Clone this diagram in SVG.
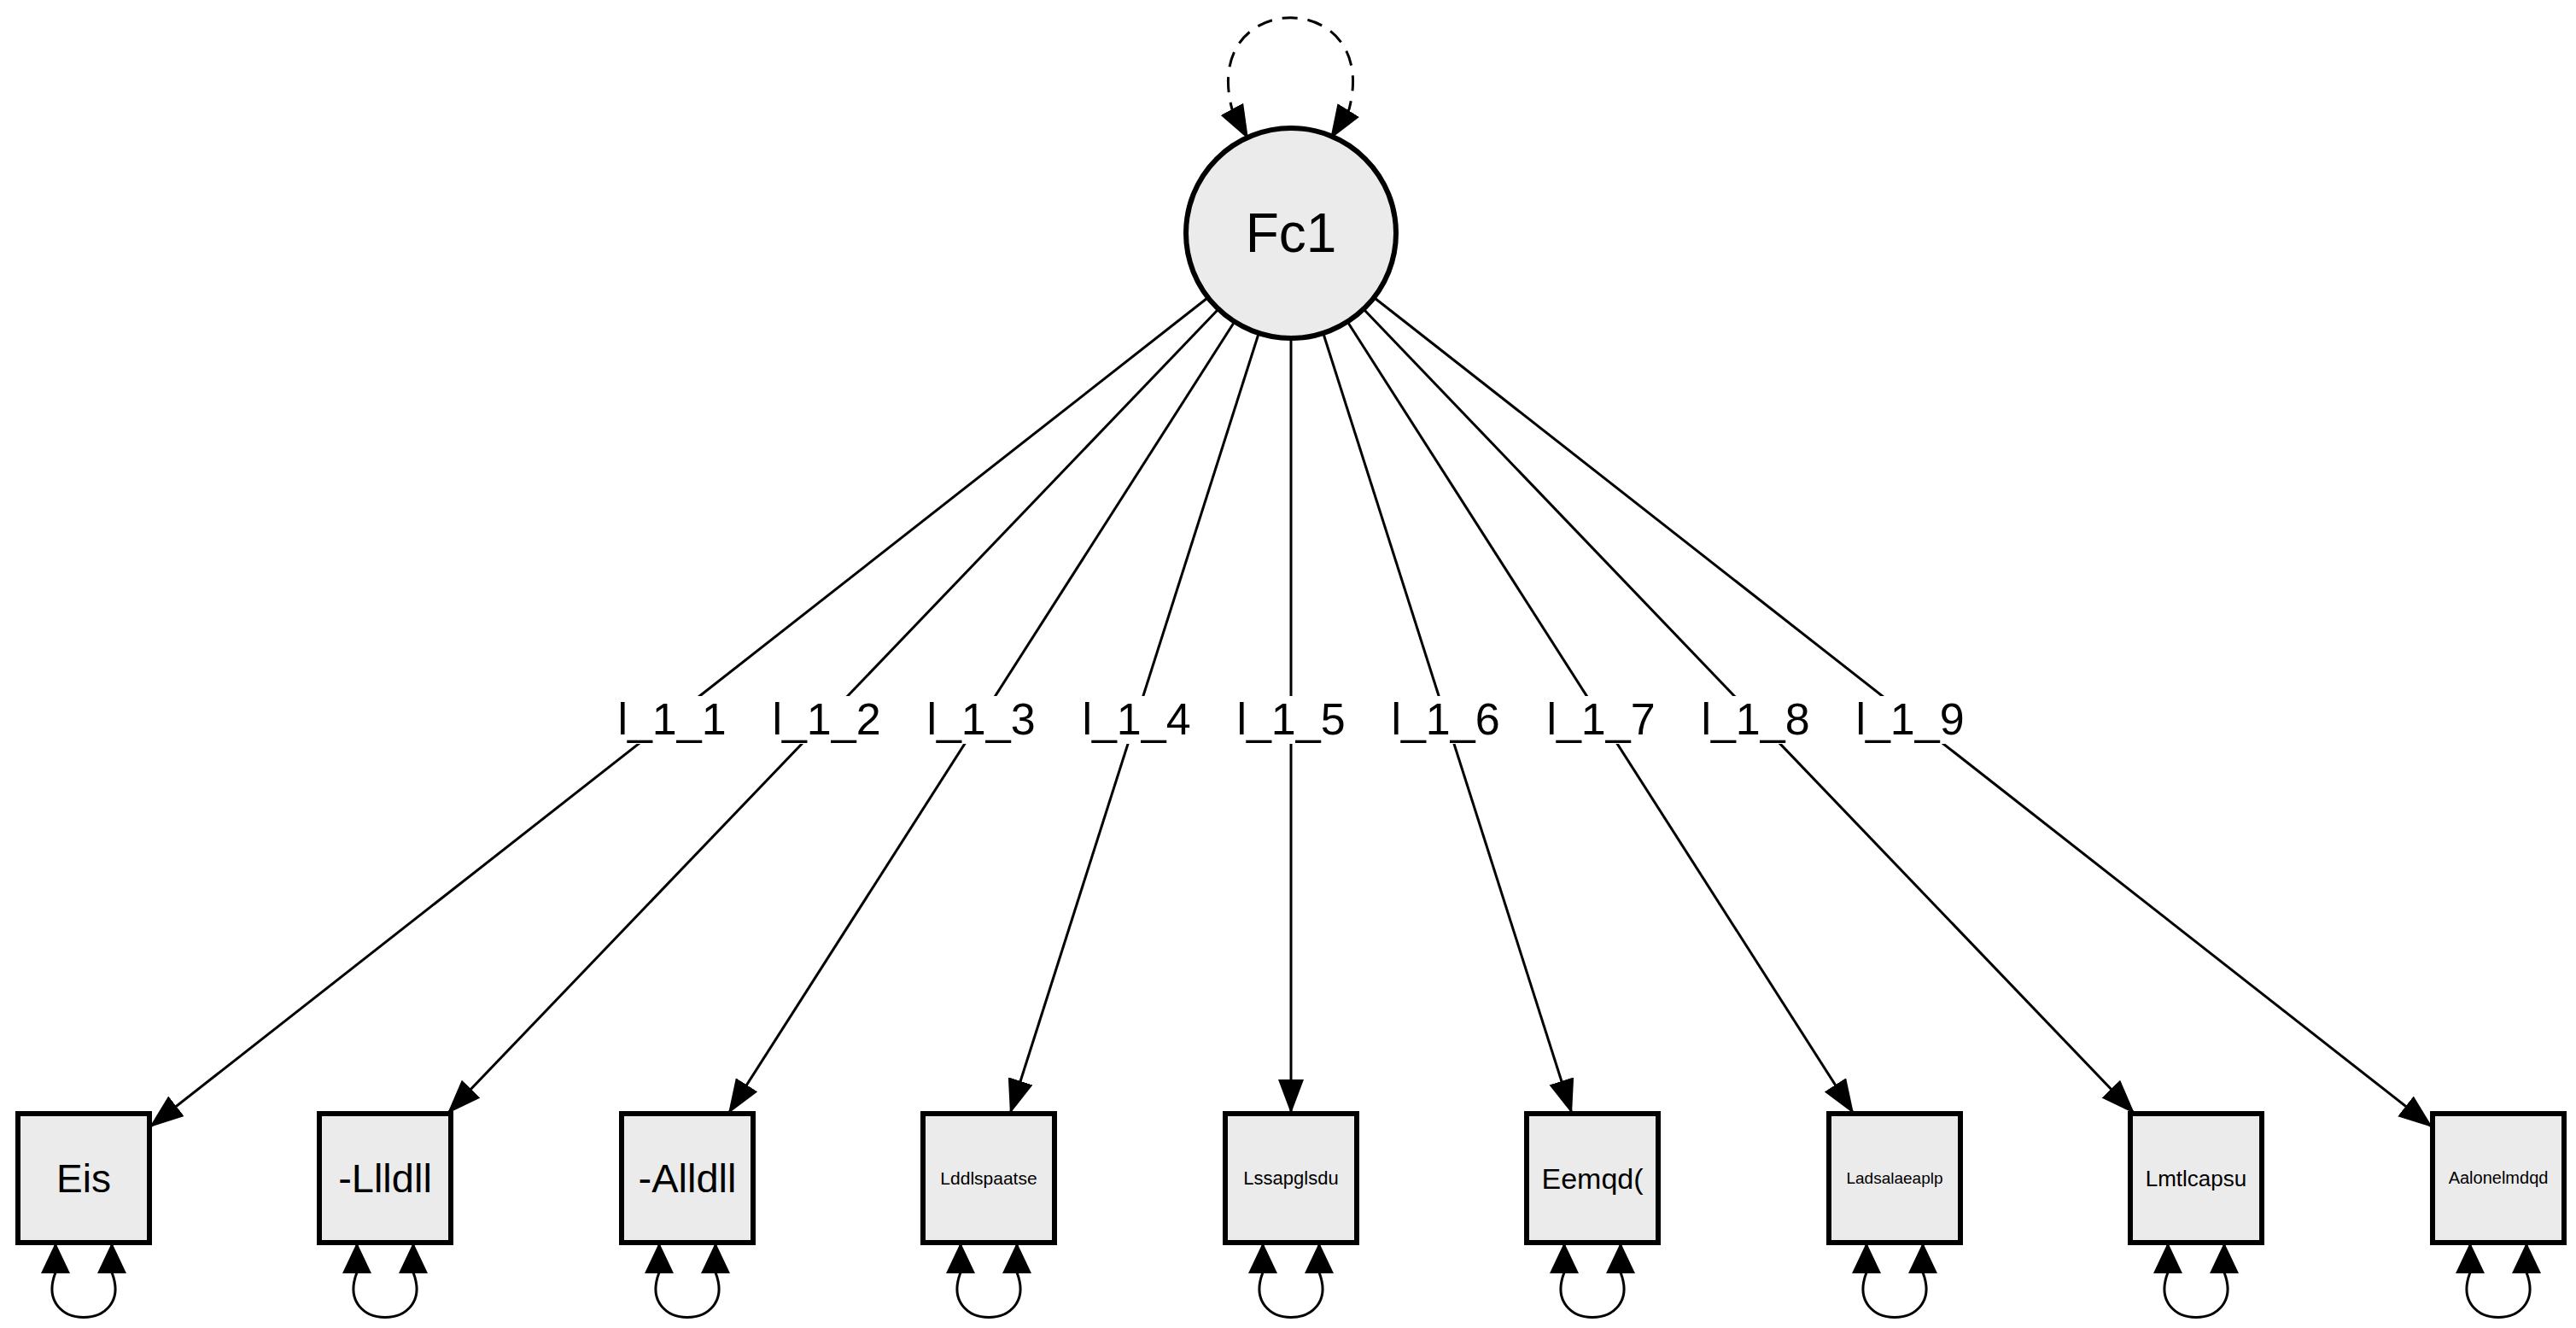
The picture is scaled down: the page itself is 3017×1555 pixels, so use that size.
<svg xmlns="http://www.w3.org/2000/svg" width="3017" height="1555" viewBox="0 0 3017 1555">
<style>
.ln{fill:none;stroke:#000;stroke-width:3}
.box{fill:#ebebeb;stroke:#000;stroke-width:6}
.t{font-family:"Liberation Sans",Arial,sans-serif;text-anchor:middle;fill:#000}
.lb{font-family:"Liberation Sans",Arial,sans-serif;font-size:52px;text-anchor:middle;fill:#000}
</style>
<defs>
<marker id="ah" markerUnits="userSpaceOnUse" markerWidth="42" markerHeight="32" refX="40" refY="15" orient="auto-start-reverse"><path d="M0,0 L40,15 L0,30 z" fill="#000"/></marker>
<marker id="sh" markerUnits="userSpaceOnUse" markerWidth="38" markerHeight="36" refX="36" refY="17" orient="auto-start-reverse"><path d="M0,0 L36,17 L0,34 z" fill="#000"/></marker>
</defs>
<rect width="3017" height="1555" fill="#fff"/>
<g id="connectors">
<path class="ln" stroke-dasharray="18,12" d="M1462,163 L1443,128 C1405,-15 1618,-15 1580,128 L1558,163" marker-start="url(#ah)" marker-end="url(#ah)"/>
<path class="ln" d="M1414,349 L175,1320" marker-end="url(#ah)"/>
<path class="ln" d="M1426,363 L524,1304" marker-end="url(#ah)"/>
<path class="ln" d="M1445,378 L853,1304" marker-end="url(#ah)"/>
<path class="ln" d="M1474,391 L1183,1304" marker-end="url(#ah)"/>
<path class="ln" d="M1512,397 L1512,1304" marker-end="url(#ah)"/>
<path class="ln" d="M1550,391 L1841,1304" marker-end="url(#ah)"/>
<path class="ln" d="M1579,378 L2171,1304" marker-end="url(#ah)"/>
<path class="ln" d="M1598,363 L2500,1304" marker-end="url(#ah)"/>
<path class="ln" d="M1610,349 L2849,1320" marker-end="url(#ah)"/>
<g fill="#fff">
<rect x="717" y="815" width="140" height="56"/><rect x="898" y="815" width="140" height="56"/><rect x="1079" y="815" width="140" height="56"/><rect x="1261" y="815" width="140" height="56"/><rect x="1442" y="815" width="140" height="56"/><rect x="1623" y="815" width="140" height="56"/><rect x="1805" y="815" width="140" height="56"/><rect x="1986" y="815" width="140" height="56"/><rect x="2167" y="815" width="140" height="56"/>
</g>
<text class="lb" x="787" y="860">l_1_1</text>
<text class="lb" x="968" y="860">l_1_2</text>
<text class="lb" x="1149" y="860">l_1_3</text>
<text class="lb" x="1331" y="860">l_1_4</text>
<text class="lb" x="1512" y="860">l_1_5</text>
<text class="lb" x="1693" y="860">l_1_6</text>
<text class="lb" x="1875" y="860">l_1_7</text>
<text class="lb" x="2056" y="860">l_1_8</text>
<text class="lb" x="2237" y="860">l_1_9</text>
<path class="ln" d="M65,1455 L65,1490 C38,1560 158,1560 131,1490 L131,1455" marker-start="url(#sh)" marker-end="url(#sh)"/>
<path class="ln" d="M418,1455 L418,1490 C391,1560 511,1560 484,1490 L484,1455" marker-start="url(#sh)" marker-end="url(#sh)"/>
<path class="ln" d="M772,1455 L772,1490 C745,1560 865,1560 838,1490 L838,1455" marker-start="url(#sh)" marker-end="url(#sh)"/>
<path class="ln" d="M1125,1455 L1125,1490 C1098,1560 1218,1560 1191,1490 L1191,1455" marker-start="url(#sh)" marker-end="url(#sh)"/>
<path class="ln" d="M1479,1455 L1479,1490 C1452,1560 1572,1560 1545,1490 L1545,1455" marker-start="url(#sh)" marker-end="url(#sh)"/>
<path class="ln" d="M1832,1455 L1832,1490 C1805,1560 1925,1560 1898,1490 L1898,1455" marker-start="url(#sh)" marker-end="url(#sh)"/>
<path class="ln" d="M2186,1455 L2186,1490 C2159,1560 2279,1560 2252,1490 L2252,1455" marker-start="url(#sh)" marker-end="url(#sh)"/>
<path class="ln" d="M2539,1455 L2539,1490 C2512,1560 2632,1560 2605,1490 L2605,1455" marker-start="url(#sh)" marker-end="url(#sh)"/>
<path class="ln" d="M2893,1455 L2893,1490 C2866,1560 2986,1560 2959,1490 L2959,1455" marker-start="url(#sh)" marker-end="url(#sh)"/>
</g>
<g id="Fc1"><circle cx="1512" cy="273" r="123" fill="#ebebeb" stroke="#000" stroke-width="6"/><text class="t" x="1512" y="295" font-size="64">Fc1</text></g>
<g id="n1"><rect class="box" x="21" y="1304" width="154" height="151"/><text class="t" x="98" y="1396" font-size="46">Eis</text></g>
<g id="n2"><rect class="box" x="374" y="1304" width="154" height="151"/><text class="t" x="451" y="1396" font-size="47">-Llldll</text></g>
<g id="n3"><rect class="box" x="728" y="1304" width="154" height="151"/><text class="t" x="805" y="1396" font-size="47">-Alldll</text></g>
<g id="n4"><rect class="box" x="1081" y="1304" width="154" height="151"/><text class="t" x="1158" y="1387" font-size="21">Lddlspaatse</text></g>
<g id="n5"><rect class="box" x="1435" y="1304" width="154" height="151"/><text class="t" x="1512" y="1387" font-size="22">Lssapglsdu</text></g>
<g id="n6"><rect class="box" x="1788" y="1304" width="154" height="151"/><text class="t" x="1865" y="1392" font-size="34">Eemqd(</text></g>
<g id="n7"><rect class="box" x="2142" y="1304" width="154" height="151"/><text class="t" x="2219" y="1386" font-size="19">Ladsalaeaplp</text></g>
<g id="n8"><rect class="box" x="2495" y="1304" width="154" height="151"/><text class="t" x="2572" y="1389" font-size="26">Lmtlcapsu</text></g>
<g id="n9"><rect class="box" x="2849" y="1304" width="154" height="151"/><text class="t" x="2926" y="1386" font-size="20">Aalonelmdqd</text></g>
</svg>
